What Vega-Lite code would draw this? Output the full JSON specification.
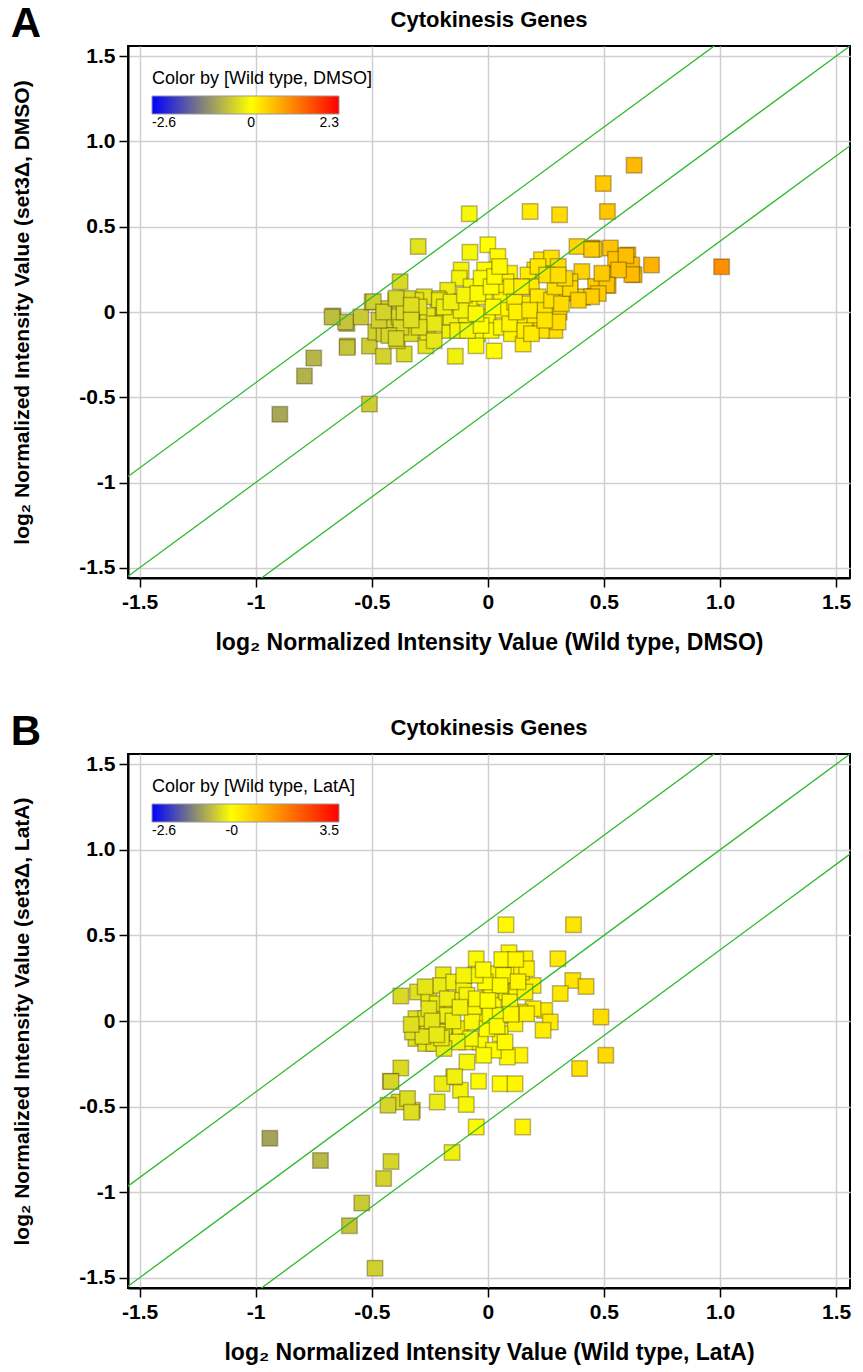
{
  "$schema": "https://vega.github.io/schema/vega-lite/v6.json",
  "background": "white",
  "padding": {"left": 10, "top": 3, "right": 4, "bottom": 4},
  "spacing": 56,
  "resolve": {"scale": {"fill": "independent", "x": "independent", "y": "independent"}, "legend": {"fill": "independent"}},
  "config": {
    "font": "Liberation Sans",
    "view": {"stroke": "black", "strokeWidth": 2},
    "axis": {
      "labelFont": "Liberation Sans", "labelFontWeight": "bold", "labelFontSize": 21, "labelColor": "black",
      "titleFont": "Liberation Sans", "titleFontWeight": "bold", "titleFontSize": 21, "titleColor": "black",
      "domainColor": "black", "domainWidth": 2, "tickColor": "black", "tickSize": 9, "tickWidth": 1.5,
      "gridColor": "#cfcfcf", "gridWidth": 1.5, "gridOpacity": 1, "labelPadding": 4
    },
    "axisX": {"titleFontSize": 23, "titlePadding": 19},
    "axisY": {"titlePadding": 46},
    "legend": {
      "titleFont": "Liberation Sans", "titleFontWeight": "normal", "titleFontSize": 18, "titleColor": "black", "titleLimit": 400,
      "labelFont": "Liberation Sans", "labelFontSize": 14, "labelColor": "black",
      "gradientLength": 187, "gradientThickness": 18, "gradientStrokeColor": "#999999", "gradientStrokeWidth": 1,
      "titlePadding": 8, "labelOffset": 4
    }
  },
  "datasets": {
    "lines": [
      {"g": "lo", "x": -2, "y": -2.585}, {"g": "lo", "x": 2, "y": 1.415},
      {"g": "mid", "x": -2, "y": -2}, {"g": "mid", "x": 2, "y": 2},
      {"g": "hi", "x": -2, "y": -1.415}, {"g": "hi", "x": 2, "y": 2.585}
    ],
    "a": [
      {"x": -0.896, "y": -0.6}, {"x": -0.79, "y": -0.376}, {"x": -0.75, "y": -0.27}, {"x": -0.51, "y": -0.54},
      {"x": -0.605, "y": -0.2}, {"x": -0.667, "y": -0.024}, {"x": -0.607, "y": -0.067}, {"x": -0.547, "y": -0.03},
      {"x": -0.378, "y": 0.178}, {"x": -0.3, "y": 0.384}, {"x": -0.08, "y": 0.576}, {"x": -0.077, "y": 0.351},
      {"x": 0.0, "y": 0.394}, {"x": -0.14, "y": -0.26}, {"x": 0.027, "y": -0.228}, {"x": -0.51, "y": -0.2},
      {"x": -0.45, "y": -0.26}, {"x": -0.36, "y": -0.247}, {"x": 0.63, "y": 0.861}, {"x": 0.497, "y": 0.753},
      {"x": 0.515, "y": 0.59}, {"x": 0.182, "y": 0.59}, {"x": 0.309, "y": 0.57}, {"x": 1.007, "y": 0.266},
      {"x": 0.705, "y": 0.276}, {"x": 0.63, "y": 0.218}, {"x": 0.603, "y": 0.335}, {"x": 0.528, "y": 0.375},
      {"x": 0.55, "y": 0.31}, {"x": 0.449, "y": 0.375}, {"x": 0.384, "y": 0.384}, {"x": 0.504, "y": 0.218},
      {"x": 0.518, "y": 0.155}, {"x": 0.405, "y": 0.237}, {"x": 0.408, "y": 0.086}, {"x": 0.328, "y": 0.11},
      {"x": 0.307, "y": 0.0}, {"x": 0.62, "y": 0.275}, {"x": 0.62, "y": 0.22}, {"x": 0.464, "y": 0.15},
      {"x": 0.457, "y": 0.37}, {"x": 0.595, "y": 0.33},
      {"x": 0.043, "y": 0.326}, {"x": 0.447, "y": 0.366}, {"x": 0.563, "y": 0.247}, {"x": 0.512, "y": 0.158},
      {"x": 0.476, "y": 0.109}, {"x": 0.404, "y": 0.089}, {"x": 0.354, "y": 0.178}, {"x": 0.325, "y": 0.119},
      {"x": 0.289, "y": -0.109}, {"x": 0.231, "y": 0.306}, {"x": 0.274, "y": 0.316}, {"x": 0.303, "y": 0.267},
      {"x": 0.202, "y": 0.247}, {"x": 0.173, "y": 0.217}, {"x": 0.094, "y": 0.227}, {"x": 0.079, "y": 0.178},
      {"x": -0.014, "y": 0.247}, {"x": -0.115, "y": 0.247}, {"x": -0.123, "y": 0.198}, {"x": -0.173, "y": 0.128},
      {"x": -0.216, "y": 0.079}, {"x": -0.274, "y": 0.089}, {"x": -0.31, "y": 0.069}, {"x": -0.346, "y": 0.079},
      {"x": -0.397, "y": 0.069}, {"x": -0.498, "y": 0.059}, {"x": -0.447, "y": 0.02}, {"x": -0.613, "y": -0.059},
      {"x": -0.671, "y": -0.03}, {"x": -0.606, "y": -0.208}, {"x": -0.483, "y": -0.119}, {"x": -0.447, "y": -0.128},
      {"x": -0.39, "y": -0.168}, {"x": -0.325, "y": -0.049}, {"x": -0.332, "y": -0.128}, {"x": -0.267, "y": -0.198},
      {"x": -0.26, "y": -0.119}, {"x": -0.209, "y": 0.069}, {"x": -0.209, "y": -0.03}, {"x": -0.166, "y": -0.109},
      {"x": -0.188, "y": -0.03}, {"x": -0.115, "y": 0.059}, {"x": -0.101, "y": -0.049}, {"x": -0.072, "y": 0.03},
      {"x": -0.043, "y": -0.128}, {"x": -0.051, "y": -0.198}, {"x": -0.014, "y": 0.089}, {"x": 0.0, "y": -0.03},
      {"x": 0.014, "y": -0.109}, {"x": 0.072, "y": 0.138}, {"x": 0.058, "y": 0.069}, {"x": 0.065, "y": 0.01},
      {"x": 0.058, "y": -0.089}, {"x": 0.101, "y": -0.128}, {"x": 0.152, "y": -0.188}, {"x": 0.145, "y": -0.03},
      {"x": 0.159, "y": 0.049}, {"x": 0.188, "y": 0.148}, {"x": 0.216, "y": 0.089}, {"x": 0.202, "y": -0.049},
      {"x": 0.231, "y": -0.109}, {"x": 0.245, "y": 0.01}, {"x": 0.274, "y": 0.069}, {"x": 0.317, "y": 0.049},
      {"x": 0.354, "y": 0.138}, {"x": 0.447, "y": 0.089}, {"x": 0.491, "y": 0.227}, {"x": 0.216, "y": 0.267},
      {"x": 0.101, "y": 0.148}, {"x": -0.072, "y": 0.148}, {"x": -0.029, "y": 0.198}, {"x": -0.159, "y": -0.03},
      {"x": -0.13, "y": -0.109}, {"x": -0.087, "y": -0.109}, {"x": -0.029, "y": -0.079}, {"x": 0.094, "y": -0.069},
      {"x": 0.159, "y": -0.109}, {"x": 0.188, "y": -0.128}, {"x": -0.419, "y": -0.049}, {"x": -0.382, "y": -0.03},
      {"x": -0.26, "y": -0.02}, {"x": -0.231, "y": -0.069}, {"x": -0.296, "y": -0.089}, {"x": -0.231, "y": -0.168},
      {"x": -0.375, "y": -0.089}, {"x": -0.426, "y": -0.138}, {"x": -0.469, "y": -0.049}, {"x": -0.115, "y": 0.01},
      {"x": -0.051, "y": -0.01}, {"x": 0.022, "y": 0.03}, {"x": 0.115, "y": 0.059}, {"x": 0.123, "y": 0.0},
      {"x": 0.18, "y": 0.01}, {"x": 0.289, "y": 0.148}, {"x": 0.332, "y": 0.198}, {"x": 0.39, "y": 0.069},
      {"x": 0.303, "y": -0.059}, {"x": 0.245, "y": -0.049}, {"x": -0.361, "y": 0.0}, {"x": -0.296, "y": 0.03},
      {"x": -0.188, "y": 0.03}, {"x": -0.159, "y": 0.059}, {"x": -0.101, "y": 0.099}, {"x": -0.043, "y": 0.109},
      {"x": 0.014, "y": 0.148}, {"x": 0.029, "y": 0.208}, {"x": 0.051, "y": 0.267}, {"x": 0.145, "y": 0.148},
      {"x": 0.253, "y": 0.217}, {"x": 0.303, "y": 0.217}, {"x": -0.493, "y": 0.06}, {"x": -0.449, "y": 0.0},
      {"x": -0.395, "y": 0.08}, {"x": -0.33, "y": 0.04}, {"x": -0.395, "y": -0.155}, {"x": -0.33, "y": -0.047}
    ],
    "b": [
      {"x": 0.078, "y": 0.562}, {"x": 0.369, "y": 0.562}, {"x": 0.302, "y": 0.364}, {"x": 0.091, "y": 0.399},
      {"x": 0.16, "y": 0.364}, {"x": -0.05, "y": 0.364}, {"x": -0.192, "y": 0.27}, {"x": -0.375, "y": 0.146},
      {"x": -0.303, "y": 0.169}, {"x": -0.254, "y": 0.13}, {"x": 0.366, "y": 0.237}, {"x": 0.423, "y": 0.202},
      {"x": 0.312, "y": 0.16}, {"x": 0.487, "y": 0.023}, {"x": 0.508, "y": -0.2}, {"x": 0.395, "y": -0.278},
      {"x": 0.245, "y": 0.062}, {"x": 0.269, "y": -0.006}, {"x": 0.238, "y": -0.054}, {"x": 0.195, "y": 0.072},
      {"x": 0.195, "y": 0.208}, {"x": 0.138, "y": -0.2}, {"x": 0.084, "y": -0.21}, {"x": 0.053, "y": -0.366},
      {"x": 0.117, "y": -0.366}, {"x": -0.04, "y": -0.352}, {"x": -0.118, "y": -0.405}, {"x": -0.147, "y": -0.327},
      {"x": -0.09, "y": -0.239}, {"x": -0.197, "y": -0.366}, {"x": -0.218, "y": -0.473}, {"x": -0.093, "y": -0.488},
      {"x": -0.375, "y": -0.274}, {"x": -0.42, "y": -0.352}, {"x": -0.382, "y": -0.473}, {"x": -0.43, "y": -0.492},
      {"x": -0.325, "y": -0.521}, {"x": -0.346, "y": -0.453},
      {"x": -0.31, "y": 0.014}, {"x": -0.31, "y": -0.103}, {"x": -0.268, "y": -0.132}, {"x": -0.232, "y": -0.132},
      {"x": -0.211, "y": 0.033}, {"x": -0.218, "y": 0.101}, {"x": -0.204, "y": 0.208}, {"x": -0.147, "y": 0.228},
      {"x": -0.104, "y": 0.189}, {"x": -0.111, "y": 0.121}, {"x": -0.154, "y": 0.072}, {"x": -0.161, "y": -0.025},
      {"x": -0.118, "y": -0.045}, {"x": -0.09, "y": -0.123}, {"x": -0.033, "y": -0.123}, {"x": -0.033, "y": 0.033},
      {"x": -0.061, "y": 0.082}, {"x": 0.01, "y": 0.169}, {"x": 0.024, "y": 0.091}, {"x": 0.081, "y": 0.169},
      {"x": 0.031, "y": 0.276}, {"x": 0.095, "y": 0.315}, {"x": 0.145, "y": 0.286}, {"x": 0.124, "y": 0.179},
      {"x": 0.138, "y": 0.053}, {"x": 0.117, "y": -0.016}, {"x": 0.053, "y": -0.074}, {"x": 0.024, "y": -0.171},
      {"x": -0.018, "y": -0.2}, {"x": -0.09, "y": 0.15}, {"x": -0.068, "y": -0.006}, {"x": -0.189, "y": -0.064},
      {"x": -0.246, "y": -0.045}, {"x": -0.289, "y": -0.045}, {"x": -0.325, "y": -0.064}, {"x": -0.268, "y": 0.014},
      {"x": -0.254, "y": 0.072}, {"x": -0.175, "y": 0.13}, {"x": -0.175, "y": 0.033}, {"x": -0.004, "y": -0.045},
      {"x": 0.01, "y": 0.033}, {"x": 0.053, "y": 0.033}, {"x": 0.095, "y": 0.111}, {"x": 0.16, "y": 0.169},
      {"x": 0.167, "y": 0.305}, {"x": 0.067, "y": 0.267}, {"x": -0.011, "y": 0.228}, {"x": -0.054, "y": 0.267},
      {"x": -0.104, "y": 0.267}, {"x": 0.053, "y": 0.208}, {"x": 0.167, "y": 0.043}, {"x": 0.074, "y": -0.123},
      {"x": -0.075, "y": -0.103}, {"x": -0.132, "y": -0.123}, {"x": -0.189, "y": -0.161},
      {"x": -0.28, "y": -0.09}, {"x": -0.24, "y": 0.0}, {"x": -0.2, "y": -0.1}, {"x": -0.15, "y": 0.0},
      {"x": -0.12, "y": 0.08}, {"x": -0.05, "y": 0.13}, {"x": 0.0, "y": 0.12}, {"x": 0.04, "y": -0.03},
      {"x": 0.1, "y": 0.04}, {"x": 0.13, "y": 0.23}, {"x": 0.06, "y": 0.36}, {"x": 0.12, "y": 0.36},
      {"x": -0.02, "y": 0.3}, {"x": -0.27, "y": 0.2}, {"x": -0.33, "y": -0.02}, {"x": -0.22, "y": -0.08},
      {"x": -0.939, "y": -0.685}, {"x": -0.721, "y": -0.815}, {"x": -0.417, "y": -0.821}, {"x": -0.449, "y": -0.92},
      {"x": -0.543, "y": -1.064}, {"x": -0.596, "y": -1.196}, {"x": -0.486, "y": -1.444}, {"x": -0.154, "y": -0.768},
      {"x": -0.417, "y": -0.354}, {"x": -0.329, "y": -0.533}, {"x": -0.143, "y": -0.325},
      {"x": -0.05, "y": -0.62}, {"x": 0.15, "y": -0.62}
    ]
  },
  "vconcat": [
    {
      "title": {"text": "A", "anchor": "start", "frame": "bounds", "fontSize": 42, "fontWeight": "bold", "font": "Liberation Sans", "color": "black", "dy": 38, "offset": 0},
      "vconcat": [
        {
          "width": 722, "height": 532,
          "title": {"text": "Cytokinesis Genes", "fontSize": 22, "fontWeight": "bold", "font": "Liberation Sans", "color": "black", "offset": 13, "anchor": "middle", "frame": "group"},
          "layer": [
            {
              "data": {"name": "a"},
              "mark": {"type": "square", "size": 240, "strokeWidth": 1.5, "stroke": "#3a3000", "strokeOpacity": 0.35, "fillOpacity": 1},
              "encoding": {
                "x": {"field": "x", "type": "quantitative",
                  "scale": {"domain": [-1.55, 1.56], "nice": false, "zero": false},
                  "axis": {"values": [-1.5, -1, -0.5, 0, 0.5, 1, 1.5], "title": "log₂ Normalized Intensity Value (Wild type, DMSO)",
                    "labelExpr": "datum.value == -1.5 ? '-1.5' : datum.value == -1 ? '-1' : datum.value == -0.5 ? '-0.5' : datum.value == 0 ? '0' : datum.value == 0.5 ? '0.5' : datum.value == 1 ? '1.0' : '1.5'"}},
                "y": {"field": "y", "type": "quantitative",
                  "scale": {"domain": [-1.56, 1.56], "nice": false, "zero": false},
                  "axis": {"values": [-1.5, -1, -0.5, 0, 0.5, 1, 1.5], "title": "log₂ Normalized Intensity Value (set3Δ, DMSO)",
                    "labelExpr": "datum.value == -1.5 ? '-1.5' : datum.value == -1 ? '-1' : datum.value == -0.5 ? '-0.5' : datum.value == 0 ? '0' : datum.value == 0.5 ? '0.5' : datum.value == 1 ? '1.0' : '1.5'"}},
                "fill": {"field": "x", "type": "quantitative",
                  "scale": {"type": "linear", "domain": [-2.6, 0, 2.3], "range": ["#0000ff", "#ffff00", "#ff0000"], "interpolate": "rgb", "nice": false, "zero": false},
                  "legend": {"type": "gradient", "title": "Color by [Wild type, DMSO]", "orient": "top-left", "direction": "horizontal", "offset": 24, "padding": 0,
                    "values": [-2.6, 0, 2.3],
                    "labelExpr": "datum.value < 0 ? '-' + format(-datum.value, '.1f') : datum.value == 0 ? '0' : format(datum.value, '.1f')"}}
              }
            },
            {
              "data": {"name": "lines"},
              "mark": {"type": "line", "color": "#2eb82e", "strokeWidth": 1.3, "clip": true},
              "encoding": {
                "x": {"field": "x", "type": "quantitative"},
                "y": {"field": "y", "type": "quantitative"},
                "detail": {"field": "g"}
              }
            }
          ]
        }
      ]
    },
    {
      "title": {"text": "B", "anchor": "start", "frame": "bounds", "fontSize": 42, "fontWeight": "bold", "font": "Liberation Sans", "color": "black", "dy": 38, "offset": 0},
      "vconcat": [
        {
          "width": 722, "height": 534,
          "title": {"text": "Cytokinesis Genes", "fontSize": 22, "fontWeight": "bold", "font": "Liberation Sans", "color": "black", "offset": 13, "anchor": "middle", "frame": "group"},
          "layer": [
            {
              "data": {"name": "b"},
              "mark": {"type": "square", "size": 240, "strokeWidth": 1.5, "stroke": "#3a3000", "strokeOpacity": 0.35, "fillOpacity": 1},
              "encoding": {
                "x": {"field": "x", "type": "quantitative",
                  "scale": {"domain": [-1.55, 1.56], "nice": false, "zero": false},
                  "axis": {"values": [-1.5, -1, -0.5, 0, 0.5, 1, 1.5], "title": "log₂ Normalized Intensity Value (Wild type, LatA)",
                    "labelExpr": "datum.value == -1.5 ? '-1.5' : datum.value == -1 ? '-1' : datum.value == -0.5 ? '-0.5' : datum.value == 0 ? '0' : datum.value == 0.5 ? '0.5' : datum.value == 1 ? '1.0' : '1.5'"}},
                "y": {"field": "y", "type": "quantitative",
                  "scale": {"domain": [-1.56, 1.56], "nice": false, "zero": false},
                  "axis": {"values": [-1.5, -1, -0.5, 0, 0.5, 1, 1.5], "title": "log₂ Normalized Intensity Value (set3Δ, LatA)",
                    "labelExpr": "datum.value == -1.5 ? '-1.5' : datum.value == -1 ? '-1' : datum.value == -0.5 ? '-0.5' : datum.value == 0 ? '0' : datum.value == 0.5 ? '0.5' : datum.value == 1 ? '1.0' : '1.5'"}},
                "fill": {"field": "x", "type": "quantitative",
                  "scale": {"type": "linear", "domain": [-2.6, 0, 3.5], "range": ["#0000ff", "#ffff00", "#ff0000"], "interpolate": "rgb", "nice": false, "zero": false},
                  "legend": {"type": "gradient", "title": "Color by [Wild type, LatA]", "orient": "top-left", "direction": "horizontal", "offset": 24, "padding": 0,
                    "values": [-2.6, 0, 3.5],
                    "labelExpr": "datum.value < 0 ? '-' + format(-datum.value, '.1f') : datum.value == 0 ? '-0' : format(datum.value, '.1f')"}}
              }
            },
            {
              "data": {"name": "lines"},
              "mark": {"type": "line", "color": "#2eb82e", "strokeWidth": 1.3, "clip": true},
              "encoding": {
                "x": {"field": "x", "type": "quantitative"},
                "y": {"field": "y", "type": "quantitative"},
                "detail": {"field": "g"}
              }
            }
          ]
        }
      ]
    }
  ]
}
